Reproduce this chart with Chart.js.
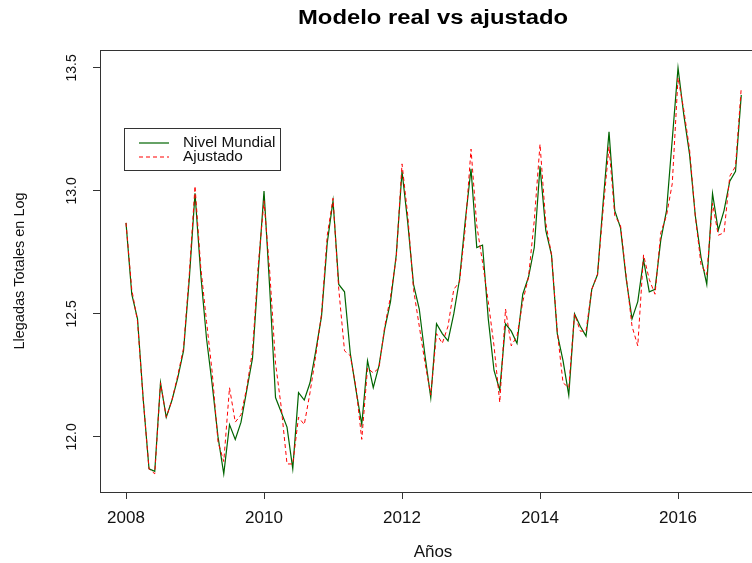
<!DOCTYPE html>
<html>
<head>
<meta charset="utf-8">
<script src="https://cdn.jsdelivr.net/npm/chart.js@4/dist/chart.umd.min.js"></script>
<style>
    html, body { margin: 0; padding: 0; background: #fff; overflow: hidden; }
    #contenedor { width: 770px; height: 563px; }
</style>
</head>
<body>
<div id="contenedor"><canvas id="grafico" width="770" height="563"></canvas></div>
<script>
// DATOS
const anioInicio = 2008;
const ticksAnios = [2008, 2010, 2012, 2014, 2016];
const ticksLog = [12.0, 12.5, 13.0, 13.5];

const nivelMundial = [
    12.87, 12.58, 12.48, 12.15, 11.87, 11.86, 12.22, 12.08, 12.15, 12.24, 12.35, 12.64,
    12.99, 12.66, 12.40, 12.21, 12.00, 11.85, 12.05, 11.99, 12.06, 12.19, 12.32, 12.67,
    13.00, 12.60, 12.16, 12.10, 12.04, 11.87, 12.18, 12.15, 12.22, 12.35, 12.49, 12.79,
    12.96, 12.62, 12.59, 12.34, 12.19, 12.05, 12.31, 12.20, 12.29, 12.44, 12.55, 12.74,
    13.08, 12.87, 12.62, 12.52, 12.33, 12.16, 12.46, 12.42, 12.39, 12.50, 12.64, 12.88,
    13.09, 12.77, 12.78, 12.48, 12.27, 12.19, 12.46, 12.43, 12.38, 12.58, 12.65, 12.77,
    13.10, 12.84, 12.74, 12.42, 12.31, 12.17, 12.50, 12.45, 12.41, 12.60, 12.66, 12.96,
    13.24, 12.92, 12.85, 12.64, 12.48, 12.55, 12.72, 12.59, 12.60, 12.80, 12.92, 13.21,
    13.50, 13.31, 13.15, 12.90, 12.73, 12.62, 12.99, 12.84, 12.92, 13.04, 13.08, 13.39
];
const ajustado = [
    12.87, 12.60, 12.47, 12.15, 11.87, 11.85, 12.22, 12.08, 12.15, 12.25, 12.36, 12.66,
    13.02, 12.69, 12.47, 12.26, 11.98, 11.90, 12.20, 12.06, 12.09, 12.20, 12.35, 12.70,
    12.96, 12.67, 12.30, 12.12, 11.89, 11.89, 12.08, 12.05, 12.18, 12.33, 12.50, 12.82,
    12.97, 12.60, 12.35, 12.33, 12.20, 11.99, 12.28, 12.26, 12.28, 12.45, 12.57, 12.73,
    13.11, 12.90, 12.60, 12.45, 12.30, 12.17, 12.42, 12.38, 12.45, 12.60, 12.63, 12.85,
    13.17, 12.86, 12.71, 12.55, 12.37, 12.14, 12.52, 12.37, 12.41, 12.55, 12.65, 12.88,
    13.19, 12.87, 12.74, 12.43, 12.22, 12.20, 12.50, 12.43, 12.43, 12.60, 12.66, 12.93,
    13.18, 12.90, 12.86, 12.65, 12.45, 12.37, 12.74, 12.64, 12.58, 12.83, 12.90, 13.03,
    13.46, 13.33, 13.17, 12.90, 12.70, 12.66, 12.95, 12.82, 12.83, 13.06, 13.10, 13.42
];
// ----------------

const aPuntos = (serie) => serie.map((valor, i) => ({ x: anioInicio + i / 12, y: valor }));

// titulo y caja del grafico (estilo R)
const marcoR = {
    id: 'marcoR',
    afterDatasetsDraw(chart) {
        const { ctx, chartArea: a } = chart;
        ctx.save();
        ctx.strokeStyle = '#333';
        ctx.lineWidth = 1;
        ctx.strokeRect(a.left + 0.5, a.top + 0.5, a.right - a.left, a.bottom - a.top);
        ctx.restore();
    },
    afterDraw(chart) {
        const { ctx, chartArea: a } = chart;
        ctx.save();
        ctx.fillStyle = '#000';
        ctx.font = 'bold 20px "Liberation Sans", Arial, sans-serif';
        ctx.textAlign = 'center';
        ctx.textBaseline = 'middle';
        const titulo = 'Modelo real vs ajustado';
        const escala = 270 / ctx.measureText(titulo).width;
        ctx.translate((a.left + a.right) / 2, 18);
        ctx.scale(escala, 1);
        ctx.fillText(titulo, 0, 0);
        ctx.restore();
    }
};

// leyenda dentro del area, arriba a la izquierda
const leyendaR = {
    id: 'leyendaR',
    afterDraw(chart) {
        const { ctx } = chart;
        const orden = [1, 0];
        ctx.save();
        ctx.strokeStyle = '#333';
        ctx.lineWidth = 1;
        ctx.strokeRect(124.5, 128.5, 156, 42);
        ctx.font = '14px "Liberation Sans", Arial, sans-serif';
        ctx.textBaseline = 'middle';
        ctx.textAlign = 'left';
        orden.forEach((idx, fila) => {
            const ds = chart.data.datasets[idx];
            const y = 143 + fila * 14;
            ctx.strokeStyle = ds.borderColor;
            ctx.lineWidth = 1.2;
            ctx.setLineDash(ds.borderDash || []);
            ctx.beginPath();
            ctx.moveTo(139, y);
            ctx.lineTo(169, y);
            ctx.stroke();
            ctx.setLineDash([]);
            ctx.fillStyle = '#111';
            ctx.save();
            ctx.translate(183, y);
            ctx.scale(1.1, 1);
            ctx.fillText(ds.label, 0, 0);
            ctx.restore();
        });
        ctx.restore();
    }
};

const datosGrafico = {
    datasets: [
        {
            label: 'Ajustado',
            data: aPuntos(ajustado),
            borderColor: '#ff0000',
            borderWidth: 1,
            borderDash: [4, 3],
            pointRadius: 0,
            tension: 0,
            order: 1
        },
        {
            label: 'Nivel Mundial',
            data: aPuntos(nivelMundial),
            borderColor: '#006400',
            borderWidth: 1.2,
            pointRadius: 0,
            tension: 0,
            order: 2
        }
    ]
};

const configuracion = {
    type: 'line',
    data: datosGrafico,
    plugins: [marcoR, leyendaR],
    options: {
        responsive: false,
        animation: false,
        layout: { padding: { top: 50, right: 4, bottom: 0, left: 0 } },
        plugins: {
            legend: { display: false },
            tooltip: { enabled: false }
        },
        scales: {
            x: {
                type: 'linear',
                min: 2007.623,
                max: 2017.275,
                afterBuildTicks: (escala) => { escala.ticks = ticksAnios.map(v => ({ value: v })); },
                afterFit: (escala) => { escala.height = 71; },
                border: { display: false },
                grid: { display: true, drawOnChartArea: false, drawTicks: true, tickLength: 7, color: '#333' },
                ticks: {
                    color: '#111',
                    padding: 9,
                    maxRotation: 0,
                    font: { family: '"Liberation Sans", Arial, sans-serif', size: 17 },
                    callback: (v) => String(v)
                },
                title: {
                    display: true,
                    text: 'Años',
                    color: '#111',
                    padding: { top: 0, bottom: 0 },
                    font: { family: '"Liberation Sans", Arial, sans-serif', size: 17 }
                }
            },
            y: {
                type: 'linear',
                min: 11.776,
                max: 13.573,
                afterBuildTicks: (escala) => { escala.ticks = ticksLog.map(v => ({ value: v })); },
                afterFit: (escala) => { escala.width = 100; },
                border: { display: false },
                grid: { display: true, drawOnChartArea: false, drawTicks: true, tickLength: 7, color: '#333' },
                ticks: {
                    color: '#111',
                    padding: 7,
                    minRotation: 90,
                    maxRotation: 90,
                    crossAlign: 'center',
                    font: { family: '"Liberation Sans", Arial, sans-serif', size: 14 },
                    callback: (v) => v.toFixed(1)
                },
                title: {
                    display: true,
                    text: 'Llegadas Totales en Log',
                    color: '#111',
                    padding: { top: 11, bottom: 0 },
                    font: { family: '"Liberation Sans", Arial, sans-serif', size: 14.5 }
                }
            }
        }
    }
};

const lienzo = document.getElementById('grafico');
const graficoModelo = new Chart(lienzo, configuracion);
</script>
</body>
</html>
